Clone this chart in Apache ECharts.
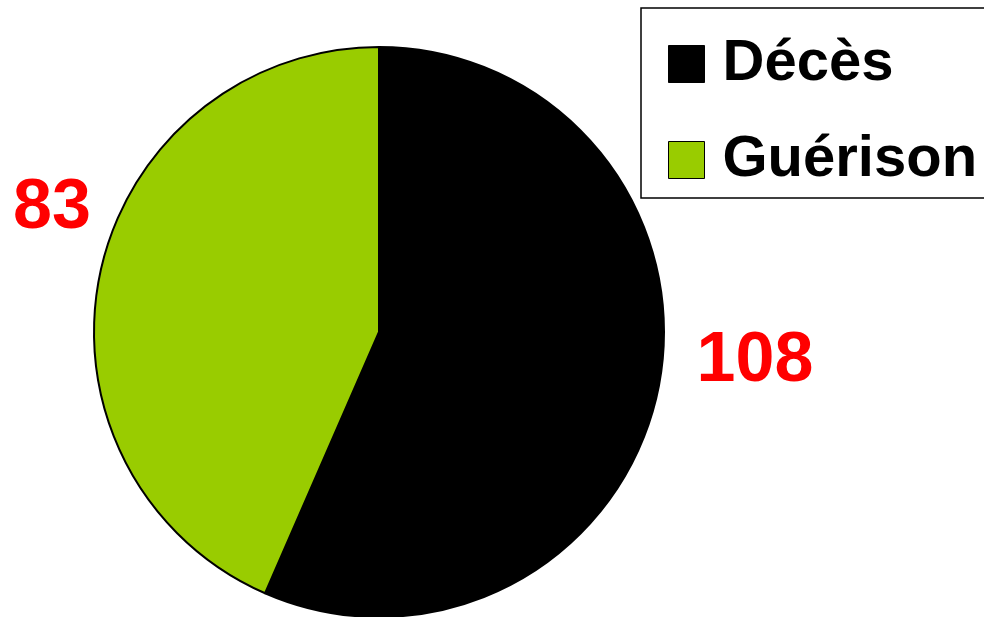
<!DOCTYPE html>
<html>
<head>
<meta charset="utf-8">
<script src="https://cdn.jsdelivr.net/npm/echarts@6/dist/echarts.min.js"></script>
<style>
html,body{margin:0;padding:0;background:#fff;}
#main{width:984px;height:617px;}
</style>
</head>
<body>
<div id="main"></div>
<script>
var categories = ['Décès', 'Guérison'];
var values = [108, 83];
var colors = ['#000000', '#99cc00'];

// where the big red numbers sit
var labelSpots = [[755, 362], [52, 209]];

var pieData = [];
for (var i = 0; i < categories.length; i++) {
	pieData.push({name: categories[i], value: values[i], itemStyle: {color: colors[i]}});
}

var chart = echarts.init(document.getElementById('main'));
var option = {
	animation: false,
	legend: {
		orient: 'vertical',
		left: 641,
		top: 8,
		padding: [27, 8, 9, 27],
		itemGap: 38,
		itemWidth: 36,
		itemHeight: 37,
		icon: 'rect',
		borderColor: '#000',
		borderWidth: 1.5,
		itemStyle: {borderColor: '#000', borderWidth: 1},
		textStyle: {
			fontFamily: 'Liberation Sans, Arial, sans-serif',
			fontWeight: 'bold',
			fontSize: 58,
			color: '#000',
			padding: [0, 0, 0, 13]
		},
		data: categories
	},
	series: [{
		type: 'pie',
		center: [379, 332],
		radius: 285,
		startAngle: 90,
		clockwise: true,
		itemStyle: {borderColor: '#000', borderWidth: 2},
		emphasis: {disabled: true},
		label: {
			show: true,
			formatter: '{c}',
			overflow: 'none',
			color: '#ff0000',
			fontFamily: 'Liberation Sans, Arial, sans-serif',
			fontWeight: 'bold',
			fontSize: 70
		},
		labelLine: {show: false},
		labelLayout: function (p) {
			var s = labelSpots[p.dataIndex];
			return {x: s[0], y: s[1], align: 'center', verticalAlign: 'middle', width: 200};
		},
		data: pieData
	}]
};
chart.setOption(option);
</script>
</body>
</html>
